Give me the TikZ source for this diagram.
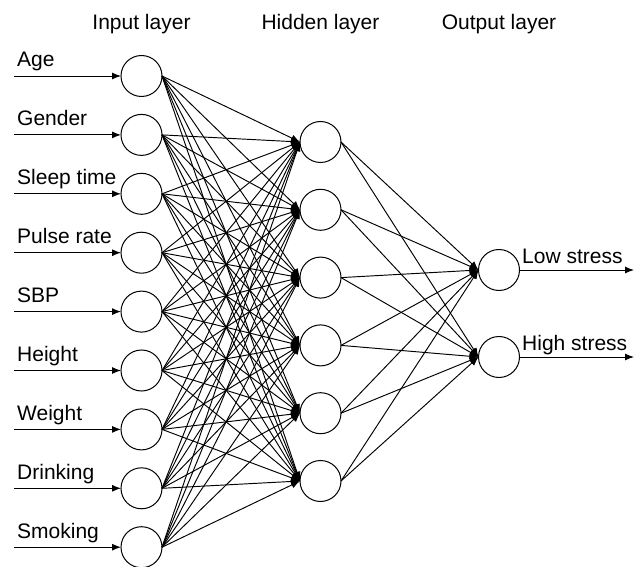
\documentclass[tikz,border=0pt]{standalone}
\usepackage{fontspec}
\setmainfont{Liberation Sans}
\usetikzlibrary{arrows.meta, positioning}
\tikzset{
  neuron/.style={circle, draw, fill=white, minimum size=41pt, inner sep=0pt, outer sep=0pt, line width=1pt},
  pto/.style={-{Latex[length=9pt,width=7pt]}, line width=0.95pt},
  lbl/.style={anchor=base west, inner sep=0pt, font=\fontsize{21}{25}\selectfont},
  ttl/.style={anchor=base, inner sep=0pt, font=\fontsize{21}{25}\selectfont}
}

\begin{document}
\begin{tikzpicture}[x=1pt, y=-1pt]
  \useasboundingbox (0,0) rectangle (638,567);

  \node[ttl] (tin) at (141.5,30) {Input layer};
  \node[ttl] (thid) at (320.5,30) {Hidden layer};
  \node[ttl] (tout) at (499,30) {Output layer};

  \foreach \name [count=\i] in {Age, Gender, Sleep time, Pulse rate, SBP, Height, Weight, Drinking, Smoking} {
    \pgfmathsetmacro\yy{76+58.9*(\i-1)}
    \node[neuron] (in\i) at (141.5,\yy) {};
    \coordinate (src\i) at (14,\yy);
    \node[lbl] (lab\i) at (17,\yy-9) {\name};
    \draw[pto] (src\i) -- (in\i.west);
  }

  \foreach \j in {1,...,6}
    \node[neuron] (hid\j) at (320.5,{142+67.8*(\j-1)}) {};

  \node[neuron] (out1) at (499,270) {};
  \node[neuron] (out2) at (499,357) {};

  \foreach \i in {1,...,9}
    \foreach \j in {1,...,6}
      \draw[pto] (in\i.east) -- (hid\j.west);

  \foreach \j in {1,...,6}
    \foreach \k in {1,2}
      \draw[pto] (hid\j.east) -- (out\k.west);

  \coordinate (sink1) at (634,270);
  \coordinate (sink2) at (634,357);
  \node[lbl] (low) at (522,263) {Low stress};
  \node[lbl] (high) at (522,350) {High stress};
  \draw[pto] (out1.east) -- (sink1);
  \draw[pto] (out2.east) -- (sink2);
\end{tikzpicture}
\end{document}
